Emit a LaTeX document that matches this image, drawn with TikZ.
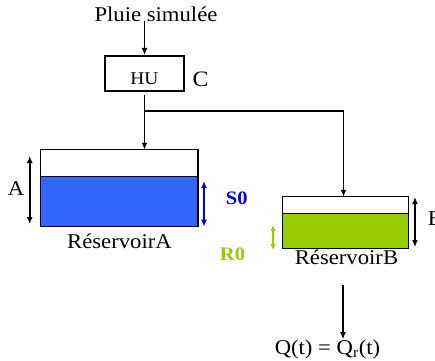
\documentclass[tikz,border=0pt]{standalone}
\usepackage{fontspec}
\setmainfont{Liberation Serif}[FakeStretch=1.08]
\usetikzlibrary{arrows.meta}
\definecolor{blueA}{RGB}{51,102,255}
\definecolor{blueS}{RGB}{0,0,230}
\definecolor{greenB}{RGB}{153,204,0}
\begin{document}
\begin{tikzpicture}[x=1pt,y=-1pt,
  txt/.style={inner sep=0pt,font=\fontsize{21}{25}\selectfont,anchor=base},
  arr/.style={-{Latex[length=7pt,width=6pt]},line width=1.9pt},
  dim/.style={{Latex[length=7pt,width=6pt]}-{Latex[length=7pt,width=6pt]},line width=1.9pt},
  tank/.style={inner sep=0pt},
  tankline/.style={line width=1.3pt}]
\useasboundingbox (0,0) rectangle (435,360);

% texts
\node[txt] (pluie) at (156,21) {Pluie simulée};
\node[draw,line width=2.2pt,inner sep=0pt,minimum width=79pt,minimum height=35pt] (hu) at (144.5,73.5) {};
\node[txt,font=\fontsize{18}{22}\selectfont] (hut) at (144.5,84.3) {HU};
\node[txt,font=\fontsize{22}{26}\selectfont] (c) at (200.5,86) {C};

% reservoir A
\node[tank,minimum width=157pt,minimum height=76pt] (resA) at (119.4,188) {};
\fill[blueA] (resA.south west) rectangle ([yshift=49.5pt]resA.south east);
\draw[tankline] ([yshift=49.5pt]resA.south west) -- ([yshift=49.5pt]resA.south east);
\draw[tankline] (resA.south west) rectangle (resA.north east);
\node[txt] (labA) at (119.5,248.3) {RéservoirA};
\node[txt] (a) at (16,195) {A};
\draw[dim] (29.7,156) -- (29.7,224);
\draw[dim,blueS] (204,181) -- (204,226.7);
\node[txt,font=\fontsize{19}{23}\selectfont\bfseries,text=blueS] (s0) at (236.7,204) {S0};

% reservoir B
\node[tank,minimum width=125pt,minimum height=51pt] (resB) at (345.5,222.5) {};
\fill[greenB] (resB.south west) rectangle ([yshift=35pt]resB.south east);
\draw[tankline] ([yshift=35pt]resB.south west) -- ([yshift=35pt]resB.south east);
\draw[tankline] (resB.south west) rectangle (resB.north east);
\node[txt] (labB) at (346.5,264.5) {RéservoirB};
\node[txt,anchor=base west] (b) at (427.7,225.5) {B};
\draw[dim] (415,197) -- (415,247);
\draw[{Latex[length=6pt,width=5.5pt]}-{Latex[length=6pt,width=5.5pt]},line width=1.7pt,greenB] (273,225) -- (273,250);
\node[txt,font=\fontsize{19}{23}\selectfont\bfseries,text=greenB] (r0) at (232.5,260) {R0};

% output
\node[txt] (q) at (327.5,354) {Q(t) = Q\textsubscript{r}(t)};
\coordinate (qout) at (343,285);

% connectors
\draw[arr] (pluie.south -| hu.north) -- (hu.north);
\draw[arr] ([yshift=-3pt]hu.south) -- (hu.south |- resA.north);
\coordinate (j) at (hu.south |- 0,111);
\draw[arr] (j) -| ([xshift=-2pt]resB.north);
\draw[arr] (qout) -- (qout |- q.north);
\end{tikzpicture}
\end{document}
